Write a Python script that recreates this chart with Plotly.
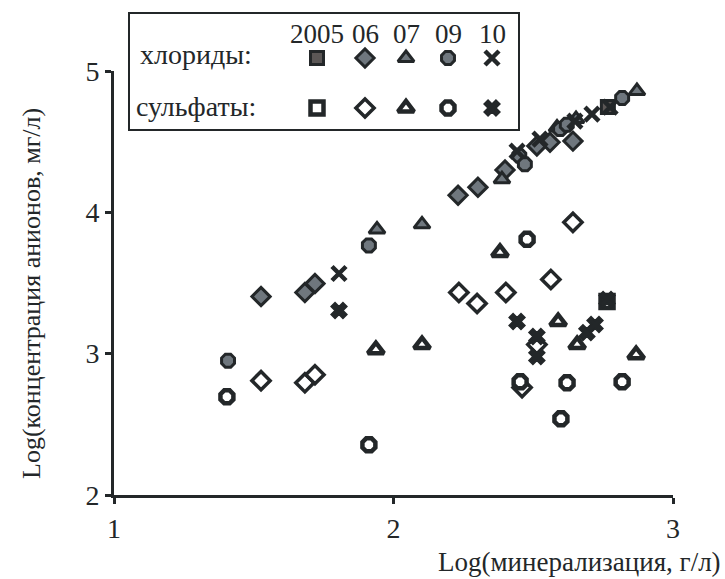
import plotly.graph_objects as go

# Log(mineralization, g/L) vs Log(anion concentration, mg/L) by sampling year
years = ["2005", "06", "07", "09", "10"]

chl_2005_x = [2.767]
chl_2005_y = [4.745]
sul_2005_x = [2.764]
sul_2005_y = [3.369]

chl_06_x = [1.526, 1.683, 1.719, 2.231, 2.302, 2.399, 2.513, 2.560, 2.642]
chl_06_y = [3.404, 3.433, 3.496, 4.121, 4.177, 4.300, 4.470, 4.496, 4.504]
sul_06_x = [1.526, 1.683, 1.719, 2.234, 2.299, 2.402, 2.460, 2.513, 2.563, 2.642]
sul_06_y = [2.809, 2.794, 2.851, 3.433, 3.355, 3.433, 2.760, 3.064, 3.525, 3.929]

chl_07_x = [1.941, 2.102, 2.388, 2.585, 2.653, 2.871]
chl_07_y = [3.879, 3.915, 4.234, 4.600, 4.660, 4.858]
sul_07_x = [1.937, 2.102, 2.381, 2.589, 2.657, 2.868]
sul_07_y = [3.028, 3.064, 3.716, 3.227, 3.064, 2.993]

chl_09_x = [1.408, 1.912, 2.450, 2.470, 2.596, 2.620, 2.818]
chl_09_y = [2.950, 3.766, 4.400, 4.340, 4.589, 4.620, 4.809]
sul_09_x = [1.404, 1.912, 2.478, 2.453, 2.621, 2.818, 2.599]
sul_09_y = [2.695, 2.355, 3.809, 2.801, 2.794, 2.801, 2.539]

chl_10_x = [1.805, 2.442, 2.524, 2.649, 2.710, 2.775]
chl_10_y = [3.567, 4.433, 4.518, 4.645, 4.695, 4.745]
sul_10_x = [1.805, 2.442, 2.513, 2.513, 2.692, 2.721, 2.764]
sul_10_y = [3.305, 3.227, 3.121, 2.979, 3.149, 3.206, 3.383]

x_ticks = [1, 2, 3]
y_ticks = [2, 3, 4, 5]

DARK = "#232729"
GREY = "#6f777e"
SQ_FILL = "#5b5756"

chl_style = {
    "2005": dict(symbol="square", color=SQ_FILL, line=dict(color=DARK, width=3), size=13),
    "06": dict(symbol="diamond", color=GREY, line=dict(color=DARK, width=3), size=14),
    "07": dict(symbol="triangle-up", color=GREY, line=dict(color=DARK, width=3), size=14),
    "09": dict(symbol="octagon", color=GREY, line=dict(color=DARK, width=3), size=14),
    "10": dict(symbol="x-thin", color=DARK, line=dict(color=DARK, width=4.5), size=14),
}
sul_style = {
    "2005": dict(symbol="square", color="white", line=dict(color=DARK, width=4.5), size=13),
    "06": dict(symbol="diamond", color="white", line=dict(color=DARK, width=3.5), size=14),
    "07": dict(symbol="triangle-up", color="white", line=dict(color=DARK, width=4.5), size=14),
    "09": dict(symbol="octagon", color="white", line=dict(color=DARK, width=4.5), size=14),
    "10": dict(symbol="x", color=DARK, line=dict(color=DARK, width=1.5), size=14),
}

chl_data = {
    "2005": (chl_2005_x, chl_2005_y), "06": (chl_06_x, chl_06_y),
    "07": (chl_07_x, chl_07_y), "09": (chl_09_x, chl_09_y), "10": (chl_10_x, chl_10_y),
}
sul_data = {
    "2005": (sul_2005_x, sul_2005_y), "06": (sul_06_x, sul_06_y),
    "07": (sul_07_x, sul_07_y), "09": (sul_09_x, sul_09_y), "10": (sul_10_x, sul_10_y),
}

W, H = 725, 579
L, R, T, B = 114, 673, 71, 495  # plot-area edges in page pixels

fig = go.Figure()

for yr in years:
    xs, ys = sul_data[yr]
    fig.add_trace(go.Scatter(x=xs, y=ys, mode="markers", marker=sul_style[yr],
                             showlegend=False, cliponaxis=False))
for yr in years:
    xs, ys = chl_data[yr]
    fig.add_trace(go.Scatter(x=xs, y=ys, mode="markers", marker=chl_style[yr],
                             showlegend=False, cliponaxis=False))

# Hand-built key on a full-page pixel axis pair
key_cols = [317, 365, 406, 448, 492]
for i, yr in enumerate(years):
    fig.add_trace(go.Scatter(x=[key_cols[i]], y=[58], mode="markers", marker=chl_style[yr],
                             xaxis="x2", yaxis="y2", showlegend=False, cliponaxis=False))
    fig.add_trace(go.Scatter(x=[key_cols[i]], y=[108], mode="markers", marker=sul_style[yr],
                             xaxis="x2", yaxis="y2", showlegend=False, cliponaxis=False))

font_serif = "Liberation Serif, Times New Roman, serif"

fig.add_shape(type="rect", xref="x2", yref="y2", x0=129, x1=519, y0=13, y1=130,
              line=dict(color=DARK, width=2), fillcolor="rgba(0,0,0,0)")

txt = dict(xref="x2", yref="y2", showarrow=False)
annotations = [
    dict(x=key_cols[i], y=34, text=yr, font=dict(family=font_serif, size=27, color=DARK), **txt)
    for i, yr in enumerate(years)
]
annotations += [
    dict(x=138, y=54, text="хлориды:", xanchor="left",
         font=dict(family=font_serif, size=28, color=DARK), **txt),
    dict(x=134, y=106, text="сульфаты:", xanchor="left",
         font=dict(family=font_serif, size=28, color=DARK), **txt),
    dict(x=723, y=562, text="Log(минерализация, г/л)", xanchor="right",
         font=dict(family=font_serif, size=27, color=DARK), **txt),
    dict(x=31, y=294, text="Log(концентрация анионов, мг/л)", textangle=-90,
         font=dict(family=font_serif, size=26, color=DARK), **txt),
]

axis_common = dict(showgrid=False, zeroline=False, showline=True, linecolor=DARK, linewidth=3,
                   ticks="outside", ticklen=6, tickwidth=3, tickcolor=DARK,
                   tickfont=dict(family=font_serif, size=28, color=DARK))

fig.update_layout(
    width=W, height=H,
    margin=dict(l=0, r=0, t=0, b=0, pad=0, autoexpand=False),
    paper_bgcolor="white", plot_bgcolor="rgba(0,0,0,0)",
    font=dict(family=font_serif, color=DARK),
    xaxis=dict(range=[1, 3], tickvals=x_ticks, ticktext=[str(v) for v in x_ticks],
               domain=[L / W, R / W], anchor="y", **axis_common),
    yaxis=dict(range=[2, 5], tickvals=y_ticks, ticktext=[str(v) for v in y_ticks],
               domain=[(H - B) / H, (H - T) / H], anchor="x", **axis_common),
    xaxis2=dict(range=[0, W], domain=[0, 1], anchor="y2", visible=False, fixedrange=True),
    yaxis2=dict(range=[H, 0], domain=[0, 1], anchor="x2", visible=False, fixedrange=True),
    annotations=annotations,
)

fig.write_html("out.html")
